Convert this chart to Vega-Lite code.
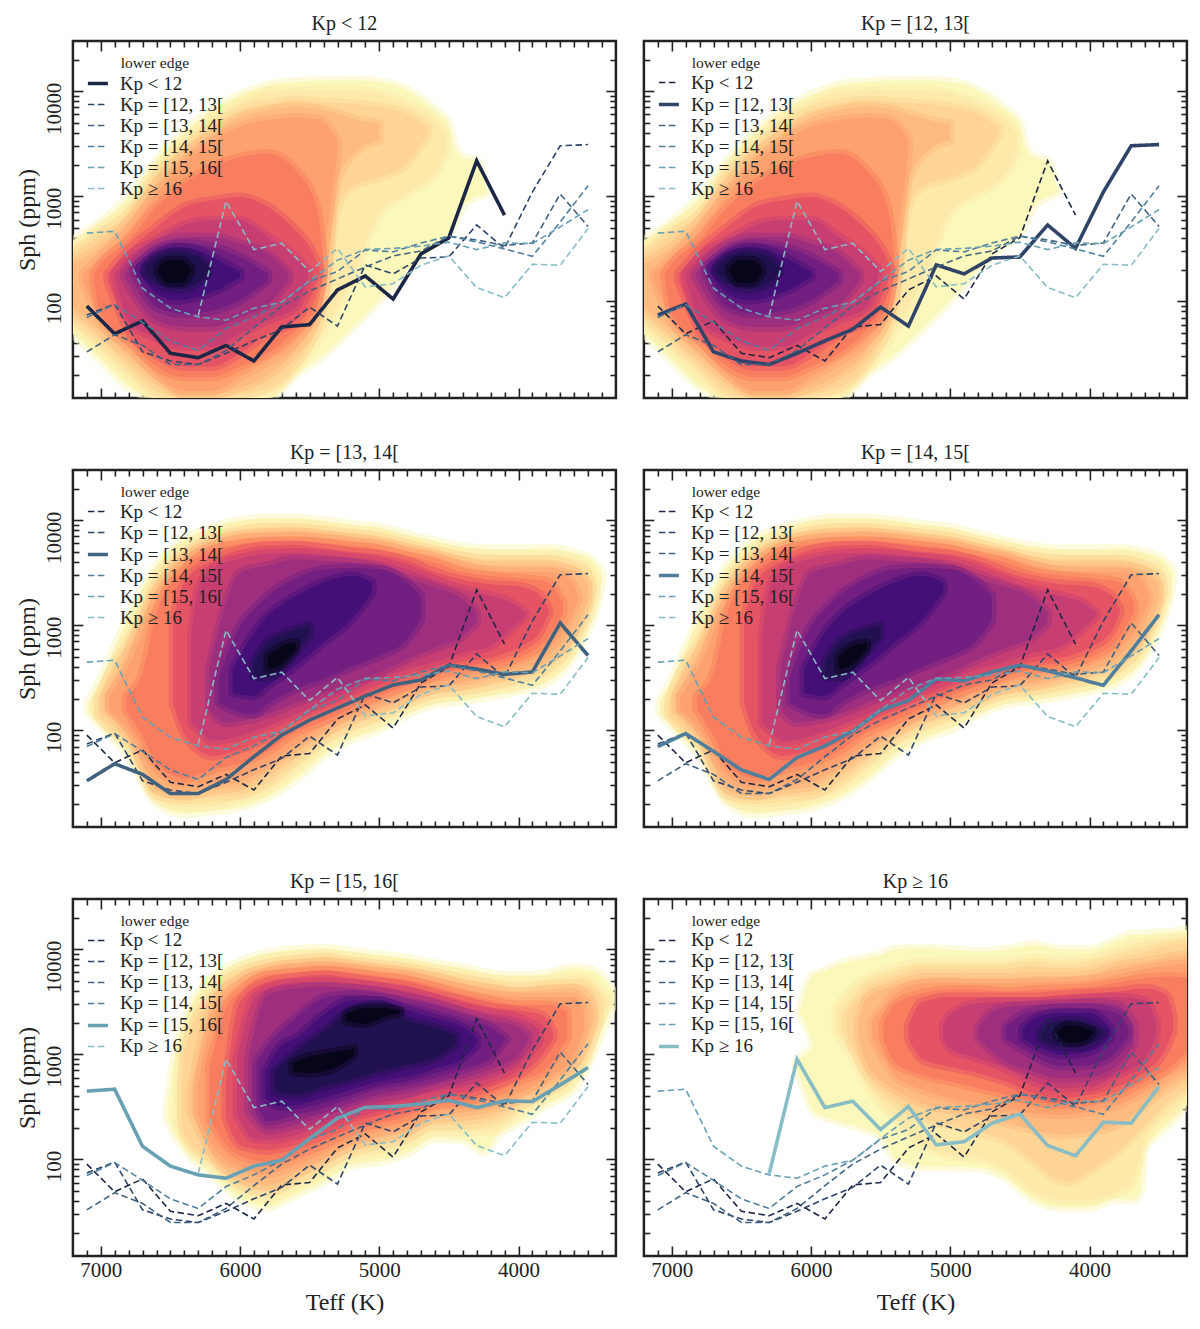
{"$schema":"https://vega.github.io/schema/vega-lite/v6.json","padding":{"left":13.9,"top":12,"right":0,"bottom":0},"background":"white","columns":2,"spacing":{"row":40,"column":22},
"resolve":{"scale":{"color":"independent","strokeDash":"independent","strokeWidth":"independent"},"legend":{"color":"independent","strokeDash":"independent","strokeWidth":"independent"}},
"config":{"view":{"stroke":"#222","strokeWidth":2.5},"font":"Liberation Serif","title":{"font":"Liberation Serif","fontSize":20,"fontWeight":"normal","color":"#222","offset":6},
"axis":{"grid":false,"domain":false,"tickColor":"#222","tickWidth":1.6,"labelFont":"Liberation Serif","titleFont":"Liberation Serif","labelFontSize":21,"titleFontSize":24,"titleFontWeight":"normal","labelColor":"#222","titleColor":"#222","zindex":1,"labelOverlap":false,"labelFlush":false,"format":"d"},
"legend":{"orient":"none","legendX":13,"legendY":15,"padding":0,"fillColor":"transparent","strokeColor":"transparent","titleFont":"Liberation Serif","labelFont":"Liberation Serif","titleFontSize":15.5,"labelFontSize":19,"titleFontWeight":"normal","labelColor":"#222","titleColor":"#222","symbolType":"stroke","symbolSize":400,"rowPadding":0,"titleAnchor":"middle","titlePadding":0,"labelOffset":10,"labelLimit":200}},
"datasets":{"lines":[
{"k":"Kp < 12","t":7100,"s":90},{"k":"Kp < 12","t":6900,"s":49},{"k":"Kp < 12","t":6700,"s":65},{"k":"Kp < 12","t":6500,"s":32},{"k":"Kp < 12","t":6300,"s":29},{"k":"Kp < 12","t":6100,"s":38},{"k":"Kp < 12","t":5900,"s":27},{"k":"Kp < 12","t":5700,"s":57},{"k":"Kp < 12","t":5500,"s":60},{"k":"Kp < 12","t":5300,"s":128},{"k":"Kp < 12","t":5100,"s":174},{"k":"Kp < 12","t":4900,"s":105},{"k":"Kp < 12","t":4700,"s":282},{"k":"Kp < 12","t":4500,"s":402},{"k":"Kp < 12","t":4300,"s":2170},{"k":"Kp < 12","t":4100,"s":660},
{"k":"Kp = [12, 13[","t":7100,"s":74},{"k":"Kp = [12, 13[","t":6900,"s":94},{"k":"Kp = [12, 13[","t":6700,"s":33},{"k":"Kp = [12, 13[","t":6500,"s":27},{"k":"Kp = [12, 13[","t":6300,"s":25},{"k":"Kp = [12, 13[","t":6100,"s":32},{"k":"Kp = [12, 13[","t":5900,"s":42},{"k":"Kp = [12, 13[","t":5700,"s":54},{"k":"Kp = [12, 13[","t":5500,"s":88},{"k":"Kp = [12, 13[","t":5300,"s":58},{"k":"Kp = [12, 13[","t":5100,"s":222},{"k":"Kp = [12, 13[","t":4900,"s":182},{"k":"Kp = [12, 13[","t":4700,"s":258},{"k":"Kp = [12, 13[","t":4500,"s":264},{"k":"Kp = [12, 13[","t":4300,"s":532},{"k":"Kp = [12, 13[","t":4100,"s":319},{"k":"Kp = [12, 13[","t":3900,"s":1096},{"k":"Kp = [12, 13[","t":3700,"s":3020},{"k":"Kp = [12, 13[","t":3500,"s":3100},
{"k":"Kp = [13, 14[","t":7100,"s":33},{"k":"Kp = [13, 14[","t":6900,"s":48},{"k":"Kp = [13, 14[","t":6700,"s":38},{"k":"Kp = [13, 14[","t":6500,"s":25},{"k":"Kp = [13, 14[","t":6300,"s":25},{"k":"Kp = [13, 14[","t":6100,"s":34},{"k":"Kp = [13, 14[","t":5900,"s":56},{"k":"Kp = [13, 14[","t":5700,"s":90},{"k":"Kp = [13, 14[","t":5500,"s":125},{"k":"Kp = [13, 14[","t":5300,"s":163},{"k":"Kp = [13, 14[","t":5100,"s":212},{"k":"Kp = [13, 14[","t":4900,"s":270},{"k":"Kp = [13, 14[","t":4700,"s":301},{"k":"Kp = [13, 14[","t":4500,"s":417},{"k":"Kp = [13, 14[","t":4300,"s":383},{"k":"Kp = [13, 14[","t":4100,"s":340},{"k":"Kp = [13, 14[","t":3900,"s":359},{"k":"Kp = [13, 14[","t":3700,"s":1050},{"k":"Kp = [13, 14[","t":3500,"s":515},
{"k":"Kp = [14, 15[","t":7100,"s":70},{"k":"Kp = [14, 15[","t":6900,"s":93},{"k":"Kp = [14, 15[","t":6700,"s":63},{"k":"Kp = [14, 15[","t":6500,"s":42},{"k":"Kp = [14, 15[","t":6300,"s":34},{"k":"Kp = [14, 15[","t":6100,"s":55},{"k":"Kp = [14, 15[","t":5900,"s":71},{"k":"Kp = [14, 15[","t":5700,"s":98},{"k":"Kp = [14, 15[","t":5500,"s":155},{"k":"Kp = [14, 15[","t":5300,"s":192},{"k":"Kp = [14, 15[","t":5100,"s":308},{"k":"Kp = [14, 15[","t":4900,"s":295},{"k":"Kp = [14, 15[","t":4700,"s":359},{"k":"Kp = [14, 15[","t":4500,"s":417},{"k":"Kp = [14, 15[","t":4300,"s":367},{"k":"Kp = [14, 15[","t":4100,"s":315},{"k":"Kp = [14, 15[","t":3900,"s":268},{"k":"Kp = [14, 15[","t":3700,"s":569},{"k":"Kp = [14, 15[","t":3500,"s":1260},
{"k":"Kp = [15, 16[","t":7100,"s":445},{"k":"Kp = [15, 16[","t":6900,"s":464},{"k":"Kp = [15, 16[","t":6700,"s":133},{"k":"Kp = [15, 16[","t":6500,"s":86},{"k":"Kp = [15, 16[","t":6300,"s":71},{"k":"Kp = [15, 16[","t":6100,"s":66},{"k":"Kp = [15, 16[","t":5900,"s":86},{"k":"Kp = [15, 16[","t":5700,"s":98},{"k":"Kp = [15, 16[","t":5500,"s":157},{"k":"Kp = [15, 16[","t":5300,"s":246},{"k":"Kp = [15, 16[","t":5100,"s":312},{"k":"Kp = [15, 16[","t":4900,"s":318},{"k":"Kp = [15, 16[","t":4700,"s":335},{"k":"Kp = [15, 16[","t":4500,"s":365},{"k":"Kp = [15, 16[","t":4300,"s":310},{"k":"Kp = [15, 16[","t":4100,"s":360},{"k":"Kp = [15, 16[","t":3900,"s":354},{"k":"Kp = [15, 16[","t":3700,"s":510},{"k":"Kp = [15, 16[","t":3500,"s":746},
{"k":"Kp ≥ 16","t":6300,"s":73},{"k":"Kp ≥ 16","t":6100,"s":896},{"k":"Kp ≥ 16","t":5900,"s":310},{"k":"Kp ≥ 16","t":5700,"s":357},{"k":"Kp ≥ 16","t":5500,"s":192},{"k":"Kp ≥ 16","t":5300,"s":318},{"k":"Kp ≥ 16","t":5100,"s":137},{"k":"Kp ≥ 16","t":4900,"s":147},{"k":"Kp ≥ 16","t":4700,"s":220},{"k":"Kp ≥ 16","t":4500,"s":270},{"k":"Kp ≥ 16","t":4300,"s":135},{"k":"Kp ≥ 16","t":4100,"s":108},{"k":"Kp ≥ 16","t":3900,"s":225},{"k":"Kp ≥ 16","t":3700,"s":220},{"k":"Kp ≥ 16","t":3500,"s":492}
],
"heat":[
{"h":"A","lev":1,"t":7200,"s":49,"s2":381},{"h":"A","lev":1,"t":7000,"s":27.4,"s2":570},{"h":"A","lev":1,"t":6800,"s":15.3,"s2":985},{"h":"A","lev":1,"t":6600,"s":12,"s2":2200},{"h":"A","lev":1,"t":6400,"s":12,"s2":4100},{"h":"A","lev":1,"t":6200,"s":12,"s2":6600},{"h":"A","lev":1,"t":6000,"s":12,"s2":9200},{"h":"A","lev":1,"t":5800,"s":12,"s2":11400},{"h":"A","lev":1,"t":5600,"s":20,"s2":12300},{"h":"A","lev":1,"t":5400,"s":31,"s2":12600},{"h":"A","lev":1,"t":5200,"s":55,"s2":12700},{"h":"A","lev":1,"t":5000,"s":102,"s2":12300},{"h":"A","lev":1,"t":4800,"s":200,"s2":10200},{"h":"A","lev":1,"t":4600,"s":354,"s2":6600},{"h":"A","lev":1,"t":4500,"s":440,"s2":4900},{"h":"A","lev":1,"t":4460,"s":560,"s2":3000},{"h":"A","lev":1,"t":4400,"s":800,"s2":2350},{"h":"A","lev":1,"t":4300,"s":980,"s2":2180},{"h":"A","lev":1,"t":4240,"s":1060,"s2":1300},{"h":"A","lev":1,"t":4226,"s":1090,"s2":1100},
{"h":"A","lev":2,"t":7200,"s":57,"s2":329},{"h":"A","lev":2,"t":7000,"s":34,"s2":520},{"h":"A","lev":2,"t":6800,"s":19,"s2":790},{"h":"A","lev":2,"t":6600,"s":12,"s2":1900},{"h":"A","lev":2,"t":6400,"s":12,"s2":3415},{"h":"A","lev":2,"t":6200,"s":12,"s2":5700},{"h":"A","lev":2,"t":6000,"s":12,"s2":7900},{"h":"A","lev":2,"t":5800,"s":13,"s2":9900},{"h":"A","lev":2,"t":5600,"s":22,"s2":10200},{"h":"A","lev":2,"t":5400,"s":52,"s2":10200},{"h":"A","lev":2,"t":5200,"s":158,"s2":10200},{"h":"A","lev":2,"t":5000,"s":684,"s2":9500},{"h":"A","lev":2,"t":4800,"s":1060,"s2":7600},{"h":"A","lev":2,"t":4600,"s":1640,"s2":5300},{"h":"A","lev":2,"t":4520,"s":2600,"s2":3900},
{"h":"A","lev":3,"t":7200,"s":70,"s2":284},{"h":"A","lev":3,"t":7000,"s":42,"s2":441},{"h":"A","lev":3,"t":6800,"s":24,"s2":684},{"h":"A","lev":3,"t":6600,"s":14,"s2":1640},{"h":"A","lev":3,"t":6400,"s":12,"s2":2950},{"h":"A","lev":3,"t":6200,"s":12,"s2":4570},{"h":"A","lev":3,"t":6000,"s":13,"s2":6600},{"h":"A","lev":3,"t":5800,"s":15,"s2":7600},{"h":"A","lev":3,"t":5600,"s":25,"s2":8200},{"h":"A","lev":3,"t":5400,"s":88,"s2":7900},{"h":"A","lev":3,"t":5300,"s":791,"s2":7700},{"h":"A","lev":3,"t":5200,"s":1226,"s2":7600},{"h":"A","lev":3,"t":5000,"s":1500,"s2":7100},{"h":"A","lev":3,"t":4800,"s":2050,"s2":6100},{"h":"A","lev":3,"t":4650,"s":3900,"s2":4500},
{"h":"A","lev":4,"t":7200,"s":88,"s2":228},{"h":"A","lev":4,"t":7000,"s":52,"s2":329},{"h":"A","lev":4,"t":6800,"s":30,"s2":590},{"h":"A","lev":4,"t":6600,"s":18,"s2":1320},{"h":"A","lev":4,"t":6400,"s":13,"s2":2550},{"h":"A","lev":4,"t":6200,"s":13,"s2":3950},{"h":"A","lev":4,"t":6000,"s":15,"s2":5600},{"h":"A","lev":4,"t":5800,"s":20,"s2":6600},{"h":"A","lev":4,"t":5600,"s":34,"s2":7100},{"h":"A","lev":4,"t":5400,"s":102,"s2":6600},{"h":"A","lev":4,"t":5300,"s":1420,"s2":6100},{"h":"A","lev":4,"t":5150,"s":2750,"s2":5300},{"h":"A","lev":4,"t":5000,"s":3400,"s2":4900},
{"h":"A","lev":5,"t":7130,"s":158,"s2":183},{"h":"A","lev":5,"t":7000,"s":65,"s2":265},{"h":"A","lev":5,"t":6800,"s":37,"s2":475},{"h":"A","lev":5,"t":6600,"s":20,"s2":1060},{"h":"A","lev":5,"t":6400,"s":14,"s2":2050},{"h":"A","lev":5,"t":6200,"s":14,"s2":3300},{"h":"A","lev":5,"t":6000,"s":19,"s2":4570},{"h":"A","lev":5,"t":5800,"s":27,"s2":5300},{"h":"A","lev":5,"t":5600,"s":42,"s2":5600},{"h":"A","lev":5,"t":5450,"s":88,"s2":5400},{"h":"A","lev":5,"t":5400,"s":260,"s2":5100},{"h":"A","lev":5,"t":5300,"s":2550,"s2":3415},
{"h":"A","lev":6,"t":7050,"s":158,"s2":183},{"h":"A","lev":6,"t":7000,"s":76,"s2":228},{"h":"A","lev":6,"t":6800,"s":42,"s2":381},{"h":"A","lev":6,"t":6600,"s":24,"s2":790},{"h":"A","lev":6,"t":6400,"s":19,"s2":1320},{"h":"A","lev":6,"t":6200,"s":19,"s2":1900},{"h":"A","lev":6,"t":6000,"s":24,"s2":2350},{"h":"A","lev":6,"t":5800,"s":32,"s2":2550},{"h":"A","lev":6,"t":5600,"s":53,"s2":1770},{"h":"A","lev":6,"t":5450,"s":88,"s2":790},{"h":"A","lev":6,"t":5400,"s":183,"s2":246},
{"h":"A","lev":7,"t":6950,"s":158,"s2":183},{"h":"A","lev":7,"t":6800,"s":53,"s2":306},{"h":"A","lev":7,"t":6600,"s":31,"s2":510},{"h":"A","lev":7,"t":6400,"s":24,"s2":790},{"h":"A","lev":7,"t":6200,"s":24,"s2":916},{"h":"A","lev":7,"t":6000,"s":32,"s2":985},{"h":"A","lev":7,"t":5800,"s":49,"s2":790},{"h":"A","lev":7,"t":5600,"s":66,"s2":475},{"h":"A","lev":7,"t":5500,"s":102,"s2":329},{"h":"A","lev":7,"t":5430,"s":183,"s2":212},
{"h":"A","lev":8,"t":6900,"s":170,"s2":183},{"h":"A","lev":8,"t":6800,"s":66,"s2":265},{"h":"A","lev":8,"t":6600,"s":45,"s2":381},{"h":"A","lev":8,"t":6400,"s":37,"s2":530},{"h":"A","lev":8,"t":6200,"s":37,"s2":590},{"h":"A","lev":8,"t":6000,"s":49,"s2":590},{"h":"A","lev":8,"t":5800,"s":66,"s2":410},{"h":"A","lev":8,"t":5600,"s":88,"s2":265},{"h":"A","lev":8,"t":5510,"s":183,"s2":197},
{"h":"A","lev":9,"t":6830,"s":170,"s2":183},{"h":"A","lev":9,"t":6700,"s":88,"s2":284},{"h":"A","lev":9,"t":6600,"s":66,"s2":354},{"h":"A","lev":9,"t":6400,"s":57,"s2":410},{"h":"A","lev":9,"t":6200,"s":57,"s2":410},{"h":"A","lev":9,"t":6000,"s":70,"s2":354},{"h":"A","lev":9,"t":5800,"s":93,"s2":284},{"h":"A","lev":9,"t":5650,"s":158,"s2":183},
{"h":"A","lev":10,"t":6760,"s":183,"s2":212},{"h":"A","lev":10,"t":6600,"s":88,"s2":306},{"h":"A","lev":10,"t":6400,"s":76,"s2":354},{"h":"A","lev":10,"t":6200,"s":81,"s2":329},{"h":"A","lev":10,"t":6000,"s":102,"s2":265},{"h":"A","lev":10,"t":5800,"s":158,"s2":183},
{"h":"A","lev":11,"t":6720,"s":183,"s2":212},{"h":"A","lev":11,"t":6600,"s":118,"s2":284},{"h":"A","lev":11,"t":6450,"s":102,"s2":329},{"h":"A","lev":11,"t":6300,"s":110,"s2":306},{"h":"A","lev":11,"t":6150,"s":130,"s2":246},{"h":"A","lev":11,"t":6000,"s":170,"s2":190},
{"h":"A","lev":12,"t":6680,"s":183,"s2":212},{"h":"A","lev":12,"t":6600,"s":150,"s2":265},{"h":"A","lev":12,"t":6450,"s":130,"s2":295},{"h":"A","lev":12,"t":6300,"s":150,"s2":265},{"h":"A","lev":12,"t":6230,"s":183,"s2":212},
{"h":"A","lev":13,"t":6590,"s":190,"s2":205},{"h":"A","lev":13,"t":6520,"s":150,"s2":246},{"h":"A","lev":13,"t":6420,"s":150,"s2":246},{"h":"A","lev":13,"t":6350,"s":190,"s2":205},

{"h":"B","lev":1,"t":7090,"s":147,"s2":183},{"h":"B","lev":1,"t":7000,"s":110,"s2":306},{"h":"B","lev":1,"t":6800,"s":57,"s2":1226},{"h":"B","lev":1,"t":6600,"s":20.5,"s2":3680},{"h":"B","lev":1,"t":6400,"s":16,"s2":6600},{"h":"B","lev":1,"t":6200,"s":17,"s2":8500},{"h":"B","lev":1,"t":6000,"s":18.5,"s2":9900},{"h":"B","lev":1,"t":5800,"s":23,"s2":10400},{"h":"B","lev":1,"t":5600,"s":34,"s2":10400},{"h":"B","lev":1,"t":5400,"s":57,"s2":9900},{"h":"B","lev":1,"t":5200,"s":82,"s2":9100},{"h":"B","lev":1,"t":5000,"s":102,"s2":8500},{"h":"B","lev":1,"t":4800,"s":142,"s2":7300},{"h":"B","lev":1,"t":4600,"s":177,"s2":6300},{"h":"B","lev":1,"t":4400,"s":190,"s2":5600},{"h":"B","lev":1,"t":4200,"s":212,"s2":5300},{"h":"B","lev":1,"t":4000,"s":237,"s2":5300},{"h":"B","lev":1,"t":3800,"s":284,"s2":5400},{"h":"B","lev":1,"t":3600,"s":510,"s2":4900},{"h":"B","lev":1,"t":3500,"s":916,"s2":4430},{"h":"B","lev":1,"t":3430,"s":1644,"s2":3680},{"h":"B","lev":1,"t":3400,"s":2750,"s2":3180},
{"h":"B","lev":2,"t":7050,"s":147,"s2":183},{"h":"B","lev":2,"t":7000,"s":122,"s2":246},{"h":"B","lev":2,"t":6800,"s":66,"s2":916},{"h":"B","lev":2,"t":6600,"s":22,"s2":3050},{"h":"B","lev":2,"t":6400,"s":18.5,"s2":5600},{"h":"B","lev":2,"t":6200,"s":19,"s2":7600},{"h":"B","lev":2,"t":6000,"s":22,"s2":8800},{"h":"B","lev":2,"t":5800,"s":27,"s2":9400},{"h":"B","lev":2,"t":5600,"s":42,"s2":9400},{"h":"B","lev":2,"t":5400,"s":68,"s2":8800},{"h":"B","lev":2,"t":5200,"s":95,"s2":8200},{"h":"B","lev":2,"t":5000,"s":118,"s2":7600},{"h":"B","lev":2,"t":4800,"s":158,"s2":6600},{"h":"B","lev":2,"t":4600,"s":197,"s2":5700},{"h":"B","lev":2,"t":4400,"s":212,"s2":5000},{"h":"B","lev":2,"t":4200,"s":237,"s2":4700},{"h":"B","lev":2,"t":4000,"s":265,"s2":4700},{"h":"B","lev":2,"t":3800,"s":329,"s2":4700},{"h":"B","lev":2,"t":3600,"s":590,"s2":4250},{"h":"B","lev":2,"t":3500,"s":1130,"s2":3680},{"h":"B","lev":2,"t":3440,"s":1900,"s2":2750},
{"h":"B","lev":3,"t":7020,"s":137,"s2":197},{"h":"B","lev":3,"t":6900,"s":95,"s2":441},{"h":"B","lev":3,"t":6800,"s":74,"s2":684},{"h":"B","lev":3,"t":6600,"s":24,"s2":2600},{"h":"B","lev":3,"t":6400,"s":22,"s2":4900},{"h":"B","lev":3,"t":6200,"s":23,"s2":6800},{"h":"B","lev":3,"t":6000,"s":24,"s2":7900},{"h":"B","lev":3,"t":5800,"s":32,"s2":8500},{"h":"B","lev":3,"t":5600,"s":51,"s2":8500},{"h":"B","lev":3,"t":5400,"s":80,"s2":8000},{"h":"B","lev":3,"t":5200,"s":110,"s2":7500},{"h":"B","lev":3,"t":5000,"s":137,"s2":7000},{"h":"B","lev":3,"t":4800,"s":177,"s2":6000},{"h":"B","lev":3,"t":4600,"s":220,"s2":5200},{"h":"B","lev":3,"t":4400,"s":237,"s2":4500},{"h":"B","lev":3,"t":4200,"s":265,"s2":4250},{"h":"B","lev":3,"t":4000,"s":306,"s2":4250},{"h":"B","lev":3,"t":3800,"s":381,"s2":4250},{"h":"B","lev":3,"t":3600,"s":720,"s2":3680},{"h":"B","lev":3,"t":3500,"s":1420,"s2":3050},{"h":"B","lev":3,"t":3470,"s":2100,"s2":2400},
{"h":"B","lev":4,"t":6970,"s":158,"s2":212},{"h":"B","lev":4,"t":6800,"s":88,"s2":590},{"h":"B","lev":4,"t":6600,"s":27,"s2":2200},{"h":"B","lev":4,"t":6400,"s":23.5,"s2":4500},{"h":"B","lev":4,"t":6200,"s":27,"s2":6200},{"h":"B","lev":4,"t":6000,"s":29,"s2":7300},{"h":"B","lev":4,"t":5800,"s":41,"s2":7600},{"h":"B","lev":4,"t":5600,"s":61,"s2":7700},{"h":"B","lev":4,"t":5400,"s":92,"s2":7300},{"h":"B","lev":4,"t":5200,"s":127,"s2":6800},{"h":"B","lev":4,"t":5000,"s":158,"s2":6300},{"h":"B","lev":4,"t":4800,"s":197,"s2":5500},{"h":"B","lev":4,"t":4600,"s":246,"s2":4800},{"h":"B","lev":4,"t":4400,"s":265,"s2":4100},{"h":"B","lev":4,"t":4200,"s":306,"s2":3700},{"h":"B","lev":4,"t":4000,"s":354,"s2":3700},{"h":"B","lev":4,"t":3800,"s":450,"s2":3700},{"h":"B","lev":4,"t":3600,"s":850,"s2":3260},{"h":"B","lev":4,"t":3500,"s":1700,"s2":2470},
{"h":"B","lev":5,"t":6940,"s":158,"s2":212},{"h":"B","lev":5,"t":6800,"s":102,"s2":410},{"h":"B","lev":5,"t":6600,"s":37,"s2":1800},{"h":"B","lev":5,"t":6400,"s":29,"s2":3950},{"h":"B","lev":5,"t":6200,"s":32,"s2":5700},{"h":"B","lev":5,"t":6000,"s":36,"s2":6700},{"h":"B","lev":5,"t":5800,"s":49,"s2":7000},{"h":"B","lev":5,"t":5600,"s":74,"s2":7100},{"h":"B","lev":5,"t":5400,"s":108,"s2":6800},{"h":"B","lev":5,"t":5200,"s":142,"s2":6300},{"h":"B","lev":5,"t":5000,"s":183,"s2":5900},{"h":"B","lev":5,"t":4800,"s":230,"s2":5100},{"h":"B","lev":5,"t":4600,"s":284,"s2":4500},{"h":"B","lev":5,"t":4400,"s":318,"s2":3700},{"h":"B","lev":5,"t":4200,"s":354,"s2":3300},{"h":"B","lev":5,"t":4000,"s":410,"s2":3200},{"h":"B","lev":5,"t":3800,"s":570,"s2":3200},{"h":"B","lev":5,"t":3650,"s":990,"s2":2900},{"h":"B","lev":5,"t":3570,"s":1760,"s2":1900},
{"h":"B","lev":6,"t":6820,"s":158,"s2":212},{"h":"B","lev":6,"t":6700,"s":88,"s2":354},{"h":"B","lev":6,"t":6600,"s":49,"s2":1320},{"h":"B","lev":6,"t":6400,"s":35,"s2":3415},{"h":"B","lev":6,"t":6200,"s":42,"s2":5200},{"h":"B","lev":6,"t":6000,"s":49,"s2":5900},{"h":"B","lev":6,"t":5800,"s":63,"s2":6300},{"h":"B","lev":6,"t":5600,"s":95,"s2":6300},{"h":"B","lev":6,"t":5400,"s":122,"s2":6100},{"h":"B","lev":6,"t":5200,"s":163,"s2":5700},{"h":"B","lev":6,"t":5000,"s":212,"s2":5300},{"h":"B","lev":6,"t":4800,"s":265,"s2":4570},{"h":"B","lev":6,"t":4600,"s":329,"s2":3950},{"h":"B","lev":6,"t":4400,"s":381,"s2":3200},{"h":"B","lev":6,"t":4200,"s":410,"s2":2950},{"h":"B","lev":6,"t":4000,"s":490,"s2":2800},{"h":"B","lev":6,"t":3800,"s":730,"s2":2600},{"h":"B","lev":6,"t":3680,"s":1320,"s2":1640},
{"h":"B","lev":7,"t":6480,"s":183,"s2":1140},{"h":"B","lev":7,"t":6400,"s":93,"s2":2550},{"h":"B","lev":7,"t":6200,"s":57,"s2":4100},{"h":"B","lev":7,"t":6000,"s":66,"s2":5200},{"h":"B","lev":7,"t":5800,"s":85,"s2":5700},{"h":"B","lev":7,"t":5600,"s":118,"s2":5800},{"h":"B","lev":7,"t":5400,"s":153,"s2":5400},{"h":"B","lev":7,"t":5200,"s":197,"s2":5000},{"h":"B","lev":7,"t":5000,"s":255,"s2":4700},{"h":"B","lev":7,"t":4800,"s":318,"s2":4100},{"h":"B","lev":7,"t":4600,"s":381,"s2":3200},{"h":"B","lev":7,"t":4400,"s":450,"s2":2700},{"h":"B","lev":7,"t":4200,"s":490,"s2":2450},{"h":"B","lev":7,"t":4000,"s":610,"s2":2350},{"h":"B","lev":7,"t":3850,"s":850,"s2":1970},{"h":"B","lev":7,"t":3780,"s":1320,"s2":1420},
{"h":"B","lev":8,"t":6350,"s":118,"s2":790},{"h":"B","lev":8,"t":6300,"s":102,"s2":2200},{"h":"B","lev":8,"t":6200,"s":79,"s2":3415},{"h":"B","lev":8,"t":6000,"s":88,"s2":4300},{"h":"B","lev":8,"t":5800,"s":110,"s2":4800},{"h":"B","lev":8,"t":5600,"s":142,"s2":4900},{"h":"B","lev":8,"t":5400,"s":183,"s2":4700},{"h":"B","lev":8,"t":5200,"s":237,"s2":4400},{"h":"B","lev":8,"t":5000,"s":306,"s2":4100},{"h":"B","lev":8,"t":4800,"s":381,"s2":3415},{"h":"B","lev":8,"t":4600,"s":450,"s2":2700},{"h":"B","lev":8,"t":4400,"s":550,"s2":2200},{"h":"B","lev":8,"t":4200,"s":635,"s2":1900},{"h":"B","lev":8,"t":4050,"s":916,"s2":1640},{"h":"B","lev":8,"t":3950,"s":1226,"s2":1320},
{"h":"B","lev":9,"t":6220,"s":158,"s2":381},{"h":"B","lev":9,"t":6100,"s":118,"s2":1640},{"h":"B","lev":9,"t":6000,"s":122,"s2":3150},{"h":"B","lev":9,"t":5800,"s":142,"s2":3700},{"h":"B","lev":9,"t":5600,"s":183,"s2":4250},{"h":"B","lev":9,"t":5400,"s":228,"s2":4100},{"h":"B","lev":9,"t":5200,"s":284,"s2":3950},{"h":"B","lev":9,"t":5000,"s":354,"s2":3500},{"h":"B","lev":9,"t":4800,"s":475,"s2":2800},{"h":"B","lev":9,"t":4600,"s":610,"s2":2300},{"h":"B","lev":9,"t":4400,"s":790,"s2":1770},{"h":"B","lev":9,"t":4300,"s":1060,"s2":1320},
{"h":"B","lev":10,"t":6150,"s":183,"s2":329},{"h":"B","lev":10,"t":6000,"s":147,"s2":985},{"h":"B","lev":10,"t":5900,"s":142,"s2":1420},{"h":"B","lev":10,"t":5800,"s":177,"s2":1900},{"h":"B","lev":10,"t":5600,"s":246,"s2":2800},{"h":"B","lev":10,"t":5400,"s":306,"s2":3415},{"h":"B","lev":10,"t":5200,"s":400,"s2":3500},{"h":"B","lev":10,"t":5000,"s":510,"s2":3415},{"h":"B","lev":10,"t":4800,"s":730,"s2":2550},{"h":"B","lev":10,"t":4700,"s":1130,"s2":1900},
{"h":"B","lev":11,"t":6050,"s":228,"s2":381},{"h":"B","lev":11,"t":5900,"s":212,"s2":850},{"h":"B","lev":11,"t":5800,"s":265,"s2":1226},{"h":"B","lev":11,"t":5600,"s":410,"s2":1900},{"h":"B","lev":11,"t":5400,"s":684,"s2":2550},{"h":"B","lev":11,"t":5200,"s":1130,"s2":2950},{"h":"B","lev":11,"t":5050,"s":2050,"s2":2550},
{"h":"B","lev":12,"t":5900,"s":329,"s2":441},{"h":"B","lev":12,"t":5800,"s":318,"s2":684},{"h":"B","lev":12,"t":5700,"s":381,"s2":820},{"h":"B","lev":12,"t":5600,"s":550,"s2":916},{"h":"B","lev":12,"t":5500,"s":790,"s2":985},
{"h":"B","lev":13,"t":5800,"s":381,"s2":510},{"h":"B","lev":13,"t":5700,"s":425,"s2":635},{"h":"B","lev":13,"t":5600,"s":590,"s2":684},

{"h":"C","lev":1,"t":6520,"s":246,"s2":329},{"h":"C","lev":1,"t":6480,"s":183,"s2":791},{"h":"C","lev":1,"t":6400,"s":127,"s2":2050},{"h":"C","lev":1,"t":6200,"s":71,"s2":5300},{"h":"C","lev":1,"t":6000,"s":42.5,"s2":7600},{"h":"C","lev":1,"t":5800,"s":35,"s2":9100},{"h":"C","lev":1,"t":5600,"s":46,"s2":9900},{"h":"C","lev":1,"t":5400,"s":61,"s2":10200},{"h":"C","lev":1,"t":5200,"s":88,"s2":9500},{"h":"C","lev":1,"t":5000,"s":95,"s2":8800},{"h":"C","lev":1,"t":4800,"s":114,"s2":8200},{"h":"C","lev":1,"t":4600,"s":158,"s2":7300},{"h":"C","lev":1,"t":4400,"s":153,"s2":6600},{"h":"C","lev":1,"t":4250,"s":118,"s2":6000},{"h":"C","lev":1,"t":4150,"s":170,"s2":5700},{"h":"C","lev":1,"t":4000,"s":222,"s2":5600},{"h":"C","lev":1,"t":3800,"s":329,"s2":5800},{"h":"C","lev":1,"t":3600,"s":475,"s2":6600},{"h":"C","lev":1,"t":3500,"s":791,"s2":6400},{"h":"C","lev":1,"t":3400,"s":1644,"s2":5500},{"h":"C","lev":1,"t":3320,"s":2950,"s2":3954},
{"h":"C","lev":2,"t":6450,"s":212,"s2":590},{"h":"C","lev":2,"t":6400,"s":147,"s2":1520},{"h":"C","lev":2,"t":6200,"s":85,"s2":4400},{"h":"C","lev":2,"t":6000,"s":51,"s2":6800},{"h":"C","lev":2,"t":5800,"s":42,"s2":8200},{"h":"C","lev":2,"t":5600,"s":55,"s2":8800},{"h":"C","lev":2,"t":5400,"s":74,"s2":9100},{"h":"C","lev":2,"t":5200,"s":102,"s2":8500},{"h":"C","lev":2,"t":5000,"s":114,"s2":7900},{"h":"C","lev":2,"t":4800,"s":137,"s2":7300},{"h":"C","lev":2,"t":4600,"s":183,"s2":6600},{"h":"C","lev":2,"t":4400,"s":183,"s2":5800},{"h":"C","lev":2,"t":4200,"s":183,"s2":5300},{"h":"C","lev":2,"t":4000,"s":274,"s2":5000},{"h":"C","lev":2,"t":3800,"s":381,"s2":5100},{"h":"C","lev":2,"t":3600,"s":570,"s2":5500},{"h":"C","lev":2,"t":3500,"s":916,"s2":5300},{"h":"C","lev":2,"t":3420,"s":2050,"s2":4250},{"h":"C","lev":2,"t":3350,"s":2950,"s2":3415},
{"h":"C","lev":3,"t":6420,"s":246,"s2":510},{"h":"C","lev":3,"t":6400,"s":170,"s2":1060},{"h":"C","lev":3,"t":6200,"s":98,"s2":3680},{"h":"C","lev":3,"t":6000,"s":56,"s2":6100},{"h":"C","lev":3,"t":5800,"s":49,"s2":7300},{"h":"C","lev":3,"t":5600,"s":63,"s2":8000},{"h":"C","lev":3,"t":5400,"s":85,"s2":8400},{"h":"C","lev":3,"t":5200,"s":118,"s2":7700},{"h":"C","lev":3,"t":5000,"s":137,"s2":7200},{"h":"C","lev":3,"t":4800,"s":158,"s2":6700},{"h":"C","lev":3,"t":4600,"s":212,"s2":6000},{"h":"C","lev":3,"t":4400,"s":212,"s2":5300},{"h":"C","lev":3,"t":4200,"s":230,"s2":4700},{"h":"C","lev":3,"t":4000,"s":318,"s2":4250},{"h":"C","lev":3,"t":3800,"s":425,"s2":4570},{"h":"C","lev":3,"t":3600,"s":660,"s2":4700},{"h":"C","lev":3,"t":3500,"s":1060,"s2":4430},{"h":"C","lev":3,"t":3420,"s":2050,"s2":3150},
{"h":"C","lev":4,"t":6350,"s":284,"s2":460},{"h":"C","lev":4,"t":6200,"s":110,"s2":2950},{"h":"C","lev":4,"t":6000,"s":66,"s2":5300},{"h":"C","lev":4,"t":5800,"s":56,"s2":6700},{"h":"C","lev":4,"t":5600,"s":73,"s2":7300},{"h":"C","lev":4,"t":5400,"s":98,"s2":7600},{"h":"C","lev":4,"t":5200,"s":132,"s2":7200},{"h":"C","lev":4,"t":5000,"s":158,"s2":6600},{"h":"C","lev":4,"t":4800,"s":183,"s2":6100},{"h":"C","lev":4,"t":4600,"s":246,"s2":5500},{"h":"C","lev":4,"t":4400,"s":255,"s2":4700},{"h":"C","lev":4,"t":4200,"s":284,"s2":4250},{"h":"C","lev":4,"t":4000,"s":370,"s2":3950},{"h":"C","lev":4,"t":3800,"s":490,"s2":4100},{"h":"C","lev":4,"t":3600,"s":770,"s2":4250},{"h":"C","lev":4,"t":3500,"s":1420,"s2":3500},{"h":"C","lev":4,"t":3460,"s":2100,"s2":2550},
{"h":"C","lev":5,"t":6300,"s":266,"s2":510},{"h":"C","lev":5,"t":6200,"s":137,"s2":2050},{"h":"C","lev":5,"t":6000,"s":85,"s2":4700},{"h":"C","lev":5,"t":5800,"s":73,"s2":6100},{"h":"C","lev":5,"t":5600,"s":88,"s2":6700},{"h":"C","lev":5,"t":5400,"s":113,"s2":7000},{"h":"C","lev":5,"t":5200,"s":153,"s2":6600},{"h":"C","lev":5,"t":5000,"s":183,"s2":6100},{"h":"C","lev":5,"t":4800,"s":212,"s2":5700},{"h":"C","lev":5,"t":4600,"s":284,"s2":4900},{"h":"C","lev":5,"t":4400,"s":306,"s2":4250},{"h":"C","lev":5,"t":4200,"s":340,"s2":3700},{"h":"C","lev":5,"t":4000,"s":425,"s2":3500},{"h":"C","lev":5,"t":3800,"s":590,"s2":3500},{"h":"C","lev":5,"t":3600,"s":985,"s2":3500},{"h":"C","lev":5,"t":3530,"s":1760,"s2":2550},
{"h":"C","lev":6,"t":6220,"s":246,"s2":730},{"h":"C","lev":6,"t":6100,"s":137,"s2":2750},{"h":"C","lev":6,"t":6000,"s":108,"s2":3950},{"h":"C","lev":6,"t":5800,"s":95,"s2":5700},{"h":"C","lev":6,"t":5600,"s":110,"s2":6000},{"h":"C","lev":6,"t":5400,"s":137,"s2":6300},{"h":"C","lev":6,"t":5200,"s":183,"s2":6000},{"h":"C","lev":6,"t":5000,"s":220,"s2":5500},{"h":"C","lev":6,"t":4800,"s":255,"s2":5100},{"h":"C","lev":6,"t":4600,"s":329,"s2":4400},{"h":"C","lev":6,"t":4400,"s":354,"s2":3700},{"h":"C","lev":6,"t":4200,"s":410,"s2":3260},{"h":"C","lev":6,"t":4000,"s":550,"s2":2950},{"h":"C","lev":6,"t":3800,"s":730,"s2":2950},{"h":"C","lev":6,"t":3650,"s":1420,"s2":2550},
{"h":"C","lev":7,"t":6100,"s":246,"s2":550},{"h":"C","lev":7,"t":6000,"s":137,"s2":3150},{"h":"C","lev":7,"t":5800,"s":122,"s2":4900},{"h":"C","lev":7,"t":5600,"s":137,"s2":5400},{"h":"C","lev":7,"t":5400,"s":170,"s2":5700},{"h":"C","lev":7,"t":5200,"s":220,"s2":5300},{"h":"C","lev":7,"t":5000,"s":265,"s2":4900},{"h":"C","lev":7,"t":4800,"s":306,"s2":4500},{"h":"C","lev":7,"t":4600,"s":381,"s2":3800},{"h":"C","lev":7,"t":4400,"s":410,"s2":3250},{"h":"C","lev":7,"t":4200,"s":490,"s2":2800},{"h":"C","lev":7,"t":4000,"s":635,"s2":2600},{"h":"C","lev":7,"t":3830,"s":985,"s2":2350},{"h":"C","lev":7,"t":3750,"s":1420,"s2":1644},
{"h":"C","lev":8,"t":6020,"s":265,"s2":916},{"h":"C","lev":8,"t":5900,"s":158,"s2":3415},{"h":"C","lev":8,"t":5800,"s":153,"s2":4250},{"h":"C","lev":8,"t":5600,"s":170,"s2":4800},{"h":"C","lev":8,"t":5400,"s":212,"s2":4900},{"h":"C","lev":8,"t":5200,"s":265,"s2":4700},{"h":"C","lev":8,"t":5000,"s":318,"s2":4400},{"h":"C","lev":8,"t":4800,"s":370,"s2":3950},{"h":"C","lev":8,"t":4600,"s":441,"s2":3415},{"h":"C","lev":8,"t":4400,"s":490,"s2":2800},{"h":"C","lev":8,"t":4200,"s":590,"s2":2470},{"h":"C","lev":8,"t":4000,"s":791,"s2":2200},{"h":"C","lev":8,"t":3850,"s":1320,"s2":1770},
{"h":"C","lev":9,"t":5940,"s":284,"s2":916},{"h":"C","lev":9,"t":5800,"s":190,"s2":3680},{"h":"C","lev":9,"t":5600,"s":212,"s2":4250},{"h":"C","lev":9,"t":5400,"s":255,"s2":4400},{"h":"C","lev":9,"t":5200,"s":318,"s2":4250},{"h":"C","lev":9,"t":5000,"s":381,"s2":3950},{"h":"C","lev":9,"t":4800,"s":425,"s2":3500},{"h":"C","lev":9,"t":4600,"s":510,"s2":3050},{"h":"C","lev":9,"t":4400,"s":590,"s2":2550},{"h":"C","lev":9,"t":4200,"s":720,"s2":2100},{"h":"C","lev":9,"t":4000,"s":985,"s2":1800},{"h":"C","lev":9,"t":3930,"s":1320,"s2":1520},
{"h":"C","lev":10,"t":5880,"s":329,"s2":850},{"h":"C","lev":10,"t":5800,"s":230,"s2":1226},{"h":"C","lev":10,"t":5600,"s":265,"s2":2200},{"h":"C","lev":10,"t":5400,"s":306,"s2":3415},{"h":"C","lev":10,"t":5200,"s":381,"s2":3700},{"h":"C","lev":10,"t":5000,"s":460,"s2":3500},{"h":"C","lev":10,"t":4800,"s":510,"s2":3050},{"h":"C","lev":10,"t":4600,"s":590,"s2":2650},{"h":"C","lev":10,"t":4400,"s":720,"s2":2200},{"h":"C","lev":10,"t":4200,"s":916,"s2":1800},{"h":"C","lev":10,"t":4090,"s":1380,"s2":1420},
{"h":"C","lev":11,"t":5820,"s":381,"s2":684},{"h":"C","lev":11,"t":5700,"s":318,"s2":1226},{"h":"C","lev":11,"t":5600,"s":329,"s2":1420},{"h":"C","lev":11,"t":5400,"s":381,"s2":2380},{"h":"C","lev":11,"t":5200,"s":460,"s2":3250},{"h":"C","lev":11,"t":5000,"s":550,"s2":3250},{"h":"C","lev":11,"t":4800,"s":610,"s2":2650},{"h":"C","lev":11,"t":4600,"s":730,"s2":2200},{"h":"C","lev":11,"t":4400,"s":916,"s2":1800},{"h":"C","lev":11,"t":4300,"s":1226,"s2":1420},
{"h":"C","lev":12,"t":5750,"s":441,"s2":684},{"h":"C","lev":12,"t":5600,"s":410,"s2":1060},{"h":"C","lev":12,"t":5400,"s":490,"s2":1640},{"h":"C","lev":12,"t":5200,"s":570,"s2":2650},{"h":"C","lev":12,"t":5000,"s":684,"s2":2950},{"h":"C","lev":12,"t":4800,"s":791,"s2":2100},{"h":"C","lev":12,"t":4600,"s":916,"s2":1800},{"h":"C","lev":12,"t":4450,"s":1226,"s2":1520},
{"h":"C","lev":13,"t":5620,"s":684,"s2":830},{"h":"C","lev":13,"t":5500,"s":660,"s2":950},{"h":"C","lev":13,"t":5300,"s":760,"s2":1060},{"h":"C","lev":13,"t":5180,"s":985,"s2":1140},
{"h":"C","lev":13,"lobe":"b","t":5240,"s":2050,"s2":2380},{"h":"C","lev":13,"lobe":"b","t":5100,"s":1950,"s2":2750},{"h":"C","lev":13,"lobe":"b","t":4950,"s":2300,"s2":2750},{"h":"C","lev":13,"lobe":"b","t":4850,"s":2450,"s2":2600},

{"h":"D","lev":1,"t":6104,"s":730,"s2":830},{"h":"D","lev":1,"t":6050,"s":475,"s2":985},{"h":"D","lev":1,"t":5980,"s":284,"s2":1190},{"h":"D","lev":1,"t":5940,"s":265,"s2":5500},{"h":"D","lev":1,"t":5800,"s":228,"s2":7100},{"h":"D","lev":1,"t":5600,"s":190,"s2":8200},{"h":"D","lev":1,"t":5480,"s":158,"s2":9000},{"h":"D","lev":1,"t":5400,"s":102,"s2":9900},{"h":"D","lev":1,"t":5200,"s":85,"s2":10200},{"h":"D","lev":1,"t":5000,"s":85,"s2":9900},{"h":"D","lev":1,"t":4800,"s":83,"s2":9500},{"h":"D","lev":1,"t":4600,"s":66,"s2":9900},{"h":"D","lev":1,"t":4400,"s":41,"s2":11000},{"h":"D","lev":1,"t":4200,"s":35,"s2":9900},{"h":"D","lev":1,"t":4000,"s":35,"s2":9900},{"h":"D","lev":1,"t":3800,"s":42,"s2":12300},{"h":"D","lev":1,"t":3700,"s":41,"s2":13700},{"h":"D","lev":1,"t":3650,"s":45,"s2":13800},{"h":"D","lev":1,"t":3625,"s":55,"s2":13800},{"h":"D","lev":1,"t":3615,"s":118,"s2":13800},{"h":"D","lev":1,"t":3500,"s":177,"s2":14300},{"h":"D","lev":1,"t":3400,"s":237,"s2":14500},{"h":"D","lev":1,"t":3300,"s":329,"s2":15200},
{"h":"D","lev":1,"lobe":"b","t":6080,"s":2500,"s2":2600},{"h":"D","lev":1,"lobe":"b","t":6016,"s":1640,"s2":4900},{"h":"D","lev":1,"lobe":"b","t":5966,"s":1226,"s2":5800},{"h":"D","lev":1,"lobe":"b","t":5930,"s":1200,"s2":5900},
{"h":"D","lev":2,"t":5820,"s":1640,"s2":2750},{"h":"D","lev":2,"t":5700,"s":916,"s2":4250},{"h":"D","lev":2,"t":5600,"s":510,"s2":5300},{"h":"D","lev":2,"t":5400,"s":246,"s2":6600},{"h":"D","lev":2,"t":5200,"s":137,"s2":7600},{"h":"D","lev":2,"t":5000,"s":108,"s2":7600},{"h":"D","lev":2,"t":4800,"s":102,"s2":7600},{"h":"D","lev":2,"t":4600,"s":80,"s2":7600},{"h":"D","lev":2,"t":4400,"s":49,"s2":8200},{"h":"D","lev":2,"t":4200,"s":41,"s2":7900},{"h":"D","lev":2,"t":4000,"s":41,"s2":8200},{"h":"D","lev":2,"t":3800,"s":49,"s2":9900},{"h":"D","lev":2,"t":3700,"s":57,"s2":11000},{"h":"D","lev":2,"t":3650,"s":88,"s2":11400},{"h":"D","lev":2,"t":3600,"s":147,"s2":11800},{"h":"D","lev":2,"t":3400,"s":284,"s2":12700},{"h":"D","lev":2,"t":3300,"s":370,"s2":13200},
{"h":"D","lev":3,"t":5750,"s":1640,"s2":2380},{"h":"D","lev":3,"t":5600,"s":635,"s2":4250},{"h":"D","lev":3,"t":5400,"s":354,"s2":5500},{"h":"D","lev":3,"t":5200,"s":246,"s2":6500},{"h":"D","lev":3,"t":5000,"s":212,"s2":6500},{"h":"D","lev":3,"t":4800,"s":183,"s2":6500},{"h":"D","lev":3,"t":4600,"s":147,"s2":6500},{"h":"D","lev":3,"t":4400,"s":95,"s2":7000},{"h":"D","lev":3,"t":4250,"s":66,"s2":6600},{"h":"D","lev":3,"t":4150,"s":61,"s2":6600},{"h":"D","lev":3,"t":4000,"s":76,"s2":7000},{"h":"D","lev":3,"t":3800,"s":118,"s2":8200},{"h":"D","lev":3,"t":3700,"s":158,"s2":8800},{"h":"D","lev":3,"t":3600,"s":212,"s2":9500},{"h":"D","lev":3,"t":3400,"s":381,"s2":11000},{"h":"D","lev":3,"t":3300,"s":460,"s2":11400},
{"h":"D","lev":4,"t":5660,"s":1520,"s2":2050},{"h":"D","lev":4,"t":5600,"s":820,"s2":3400},{"h":"D","lev":4,"t":5400,"s":460,"s2":4500},{"h":"D","lev":4,"t":5200,"s":340,"s2":5300},{"h":"D","lev":4,"t":5000,"s":295,"s2":5400},{"h":"D","lev":4,"t":4800,"s":265,"s2":5300},{"h":"D","lev":4,"t":4600,"s":222,"s2":5300},{"h":"D","lev":4,"t":4400,"s":190,"s2":5500},{"h":"D","lev":4,"t":4200,"s":170,"s2":5500},{"h":"D","lev":4,"t":4000,"s":183,"s2":5700},{"h":"D","lev":4,"t":3800,"s":212,"s2":6900},{"h":"D","lev":4,"t":3600,"s":329,"s2":7600},{"h":"D","lev":4,"t":3400,"s":510,"s2":8500},{"h":"D","lev":4,"t":3300,"s":610,"s2":8800},
{"h":"D","lev":5,"t":5560,"s":1420,"s2":2050},{"h":"D","lev":5,"t":5400,"s":635,"s2":3700},{"h":"D","lev":5,"t":5200,"s":460,"s2":4700},{"h":"D","lev":5,"t":5000,"s":381,"s2":4800},{"h":"D","lev":5,"t":4800,"s":340,"s2":4700},{"h":"D","lev":5,"t":4600,"s":306,"s2":4700},{"h":"D","lev":5,"t":4400,"s":274,"s2":4800},{"h":"D","lev":5,"t":4200,"s":265,"s2":4900},{"h":"D","lev":5,"t":4000,"s":284,"s2":5100},{"h":"D","lev":5,"t":3800,"s":330,"s2":5700},{"h":"D","lev":5,"t":3600,"s":440,"s2":6500},{"h":"D","lev":5,"t":3400,"s":660,"s2":7100},{"h":"D","lev":5,"t":3300,"s":790,"s2":7300},
{"h":"D","lev":6,"t":5480,"s":1420,"s2":2000},{"h":"D","lev":6,"t":5400,"s":840,"s2":2950},{"h":"D","lev":6,"t":5200,"s":635,"s2":3800},{"h":"D","lev":6,"t":5000,"s":550,"s2":4100},{"h":"D","lev":6,"t":4800,"s":475,"s2":4100},{"h":"D","lev":6,"t":4600,"s":410,"s2":3950},{"h":"D","lev":6,"t":4400,"s":354,"s2":4100},{"h":"D","lev":6,"t":4200,"s":329,"s2":4200},{"h":"D","lev":6,"t":4000,"s":354,"s2":4350},{"h":"D","lev":6,"t":3800,"s":410,"s2":4800},{"h":"D","lev":6,"t":3600,"s":550,"s2":5300},{"h":"D","lev":6,"t":3400,"s":790,"s2":5500},{"h":"D","lev":6,"t":3300,"s":1060,"s2":5300},
{"h":"D","lev":7,"t":5300,"s":1420,"s2":1900},{"h":"D","lev":7,"t":5200,"s":890,"s2":3150},{"h":"D","lev":7,"t":5000,"s":760,"s2":3500},{"h":"D","lev":7,"t":4800,"s":660,"s2":3500},{"h":"D","lev":7,"t":4600,"s":550,"s2":3500},{"h":"D","lev":7,"t":4400,"s":425,"s2":3500},{"h":"D","lev":7,"t":4200,"s":381,"s2":3680},{"h":"D","lev":7,"t":4000,"s":410,"s2":3800},{"h":"D","lev":7,"t":3800,"s":490,"s2":3950},{"h":"D","lev":7,"t":3600,"s":684,"s2":4250},{"h":"D","lev":7,"t":3450,"s":1130,"s2":3680},{"h":"D","lev":7,"t":3400,"s":1644,"s2":2380},
{"h":"D","lev":8,"t":5050,"s":1420,"s2":1900},{"h":"D","lev":8,"t":5000,"s":1130,"s2":2380},{"h":"D","lev":8,"t":4800,"s":916,"s2":3050},{"h":"D","lev":8,"t":4600,"s":730,"s2":3150},{"h":"D","lev":8,"t":4400,"s":550,"s2":3150},{"h":"D","lev":8,"t":4200,"s":475,"s2":3250},{"h":"D","lev":8,"t":4000,"s":490,"s2":3415},{"h":"D","lev":8,"t":3800,"s":635,"s2":3500},{"h":"D","lev":8,"t":3600,"s":916,"s2":3250},{"h":"D","lev":8,"t":3520,"s":1520,"s2":2050},
{"h":"D","lev":9,"t":4800,"s":1420,"s2":1770},{"h":"D","lev":9,"t":4700,"s":1060,"s2":2550},{"h":"D","lev":9,"t":4600,"s":850,"s2":2800},{"h":"D","lev":9,"t":4400,"s":684,"s2":2950},{"h":"D","lev":9,"t":4200,"s":590,"s2":3050},{"h":"D","lev":9,"t":4000,"s":610,"s2":3100},{"h":"D","lev":9,"t":3800,"s":770,"s2":2950},{"h":"D","lev":9,"t":3680,"s":1226,"s2":1900},
{"h":"D","lev":10,"t":4600,"s":1420,"s2":1830},{"h":"D","lev":10,"t":4450,"s":1060,"s2":2470},{"h":"D","lev":10,"t":4200,"s":770,"s2":2750},{"h":"D","lev":10,"t":4000,"s":790,"s2":2750},{"h":"D","lev":10,"t":3800,"s":1060,"s2":2470},{"h":"D","lev":10,"t":3720,"s":1480,"s2":1770},
{"h":"D","lev":11,"t":4480,"s":1420,"s2":1770},{"h":"D","lev":11,"t":4350,"s":1130,"s2":2320},{"h":"D","lev":11,"t":4200,"s":985,"s2":2470},{"h":"D","lev":11,"t":4000,"s":1060,"s2":2470},{"h":"D","lev":11,"t":3850,"s":1420,"s2":1770},
{"h":"D","lev":12,"t":4350,"s":1420,"s2":1640},{"h":"D","lev":12,"t":4250,"s":1200,"s2":2050},{"h":"D","lev":12,"t":4100,"s":1170,"s2":2100},{"h":"D","lev":12,"t":3950,"s":1350,"s2":1800},{"h":"D","lev":12,"t":3900,"s":1560,"s2":1640},
{"h":"D","lev":13,"t":4230,"s":1480,"s2":1680},{"h":"D","lev":13,"t":4150,"s":1280,"s2":1900},{"h":"D","lev":13,"t":4050,"s":1320,"s2":1800},{"h":"D","lev":13,"t":3980,"s":1560,"s2":1680}
]},
"concat":[
{"title":"Kp < 12","width":543,"height":357,"resolve":{"axis":{"x":"independent","y":"independent"}},"layer":[
{"data":{"name":"heat"},"transform":[{"filter":"datum.h=='A'"}],"mark":{"type":"area","clip":true,"interpolate":"monotone","strokeWidth":9,"strokeOpacity":0.5,"strokeJoin":"round"},"encoding":{"x":{"field":"t","type":"quantitative","scale":{"domain":[7200,3300],"nice":false},"axis":{"orient":"bottom","values":[7000,6000,5000,4000],"labels":false,"title":null,"tickSize":-10}},"y":{"field":"s","type":"quantitative","scale":{"type":"log","domain":[12,30000],"nice":false},"axis":{"orient":"left","values":[100,1000,10000],"tickSize":-10,"labelAngle":270,"labelAlign":"right","labelBaseline":"middle","labelOffset":-9,"labelPadding":28,"title":"Sph (ppm)","titlePadding":4}},"y2":{"field":"s2"},"fill":{"field":"lev","type":"ordinal","scale":{"domain":[1,2,3,4,5,6,7,8,9,10,11,12,13],"range":["#fbf8bb","#fde9a9","#fed595","#febb80","#fda26e","#f97d5f","#e55464","#c73e73","#9e2f7f","#721f81","#440f76","#221150","#07051a"]},"legend":null},"stroke":{"field":"lev","type":"ordinal","scale":{"domain":[1,2,3,4,5,6,7,8,9,10,11,12,13],"range":["#fbf8bb","#fde9a9","#fed595","#febb80","#fda26e","#f97d5f","#e55464","#c73e73","#9e2f7f","#721f81","#440f76","#221150","#07051a"]},"legend":null},"detail":{"field":"lobe"}}},
{"data":{"name":"lines"},"mark":{"type":"line","clip":true},"encoding":{"x":{"field":"t","type":"quantitative","scale":{"domain":[7200,3300],"nice":false},"axis":{"orient":"top","values":[7000,6000,5000,4000],"labels":false,"title":null,"tickSize":-10}},"y":{"field":"s","type":"quantitative","scale":{"type":"log","domain":[12,30000],"nice":false},"axis":{"orient":"right","values":[100,1000,10000],"labels":false,"title":null,"tickSize":-10}},"color":{"field":"k","type":"nominal","title":"lower edge","scale":{"domain":["Kp < 12","Kp = [12, 13[","Kp = [13, 14[","Kp = [14, 15[","Kp = [15, 16[","Kp ≥ 16"],"range":["#1b2745","#2f4468","#41627f","#4f7f9c","#68a0b4","#88bdc6"]}},"strokeDash":{"field":"k","type":"nominal","title":"lower edge","scale":{"domain":["Kp < 12","Kp = [12, 13[","Kp = [13, 14[","Kp = [14, 15[","Kp = [15, 16[","Kp ≥ 16"],"range":[[1,0],[6.5,3.5],[6.5,3.5],[6.5,3.5],[6.5,3.5],[6.5,3.5]]}},"strokeWidth":{"field":"k","type":"nominal","title":"lower edge","scale":{"type":"ordinal","domain":["Kp < 12","Kp = [12, 13[","Kp = [13, 14[","Kp = [14, 15[","Kp = [15, 16[","Kp ≥ 16"],"range":[3.6,1.6,1.6,1.6,1.6,1.6]}}}},
{"data":{"name":"lines"},"mark":{"type":"line","opacity":0},"encoding":{"x":{"field":"t","type":"quantitative","scale":{"domain":[7200,3300],"nice":false},"axis":{"orient":"bottom","values":[7100,6900,6800,6700,6600,6500,6400,6300,6200,6100,5900,5800,5700,5600,5500,5400,5300,5200,5100,4900,4800,4700,4600,4500,4400,4300,4200,4100,3900,3800,3700,3600,3500,3400],"labels":false,"title":null,"tickSize":-6}},"y":{"field":"s","type":"quantitative","scale":{"type":"log","domain":[12,30000],"nice":false},"axis":{"orient":"left","values":[20,30,40,50,60,70,80,90,200,300,400,500,600,700,800,900,2000,3000,4000,5000,6000,7000,8000,9000,20000],"labels":false,"title":null,"tickSize":-6}}}},
{"data":{"name":"lines"},"mark":{"type":"line","opacity":0},"encoding":{"x":{"field":"t","type":"quantitative","scale":{"domain":[7200,3300],"nice":false},"axis":{"orient":"top","values":[7100,6900,6800,6700,6600,6500,6400,6300,6200,6100,5900,5800,5700,5600,5500,5400,5300,5200,5100,4900,4800,4700,4600,4500,4400,4300,4200,4100,3900,3800,3700,3600,3500,3400],"labels":false,"title":null,"tickSize":-6}},"y":{"field":"s","type":"quantitative","scale":{"type":"log","domain":[12,30000],"nice":false},"axis":{"orient":"right","values":[20,30,40,50,60,70,80,90,200,300,400,500,600,700,800,900,2000,3000,4000,5000,6000,7000,8000,9000,20000],"labels":false,"title":null,"tickSize":-6}}}}
]},
{"title":"Kp = [12, 13[","width":543,"height":357,"resolve":{"axis":{"x":"independent","y":"independent"}},"layer":[
{"data":{"name":"heat"},"transform":[{"filter":"datum.h=='A'"}],"mark":{"type":"area","clip":true,"interpolate":"monotone","strokeWidth":9,"strokeOpacity":0.5,"strokeJoin":"round"},"encoding":{"x":{"field":"t","type":"quantitative","scale":{"domain":[7200,3300],"nice":false},"axis":{"orient":"bottom","values":[7000,6000,5000,4000],"labels":false,"title":null,"tickSize":-10}},"y":{"field":"s","type":"quantitative","scale":{"type":"log","domain":[12,30000],"nice":false},"axis":{"orient":"left","values":[100,1000,10000],"tickSize":-10,"labels":false,"title":null}},"y2":{"field":"s2"},"fill":{"field":"lev","type":"ordinal","scale":{"domain":[1,2,3,4,5,6,7,8,9,10,11,12,13],"range":["#fbf8bb","#fde9a9","#fed595","#febb80","#fda26e","#f97d5f","#e55464","#c73e73","#9e2f7f","#721f81","#440f76","#221150","#07051a"]},"legend":null},"stroke":{"field":"lev","type":"ordinal","scale":{"domain":[1,2,3,4,5,6,7,8,9,10,11,12,13],"range":["#fbf8bb","#fde9a9","#fed595","#febb80","#fda26e","#f97d5f","#e55464","#c73e73","#9e2f7f","#721f81","#440f76","#221150","#07051a"]},"legend":null},"detail":{"field":"lobe"}}},
{"data":{"name":"lines"},"mark":{"type":"line","clip":true},"encoding":{"x":{"field":"t","type":"quantitative","scale":{"domain":[7200,3300],"nice":false},"axis":{"orient":"top","values":[7000,6000,5000,4000],"labels":false,"title":null,"tickSize":-10}},"y":{"field":"s","type":"quantitative","scale":{"type":"log","domain":[12,30000],"nice":false},"axis":{"orient":"right","values":[100,1000,10000],"labels":false,"title":null,"tickSize":-10}},"color":{"field":"k","type":"nominal","title":"lower edge","scale":{"domain":["Kp < 12","Kp = [12, 13[","Kp = [13, 14[","Kp = [14, 15[","Kp = [15, 16[","Kp ≥ 16"],"range":["#1b2745","#2f4468","#41627f","#4f7f9c","#68a0b4","#88bdc6"]}},"strokeDash":{"field":"k","type":"nominal","title":"lower edge","scale":{"domain":["Kp < 12","Kp = [12, 13[","Kp = [13, 14[","Kp = [14, 15[","Kp = [15, 16[","Kp ≥ 16"],"range":[[6.5,3.5],[1,0],[6.5,3.5],[6.5,3.5],[6.5,3.5],[6.5,3.5]]}},"strokeWidth":{"field":"k","type":"nominal","title":"lower edge","scale":{"type":"ordinal","domain":["Kp < 12","Kp = [12, 13[","Kp = [13, 14[","Kp = [14, 15[","Kp = [15, 16[","Kp ≥ 16"],"range":[1.6,3.6,1.6,1.6,1.6,1.6]}}}},
{"data":{"name":"lines"},"mark":{"type":"line","opacity":0},"encoding":{"x":{"field":"t","type":"quantitative","scale":{"domain":[7200,3300],"nice":false},"axis":{"orient":"bottom","values":[7100,6900,6800,6700,6600,6500,6400,6300,6200,6100,5900,5800,5700,5600,5500,5400,5300,5200,5100,4900,4800,4700,4600,4500,4400,4300,4200,4100,3900,3800,3700,3600,3500,3400],"labels":false,"title":null,"tickSize":-6}},"y":{"field":"s","type":"quantitative","scale":{"type":"log","domain":[12,30000],"nice":false},"axis":{"orient":"left","values":[20,30,40,50,60,70,80,90,200,300,400,500,600,700,800,900,2000,3000,4000,5000,6000,7000,8000,9000,20000],"labels":false,"title":null,"tickSize":-6}}}},
{"data":{"name":"lines"},"mark":{"type":"line","opacity":0},"encoding":{"x":{"field":"t","type":"quantitative","scale":{"domain":[7200,3300],"nice":false},"axis":{"orient":"top","values":[7100,6900,6800,6700,6600,6500,6400,6300,6200,6100,5900,5800,5700,5600,5500,5400,5300,5200,5100,4900,4800,4700,4600,4500,4400,4300,4200,4100,3900,3800,3700,3600,3500,3400],"labels":false,"title":null,"tickSize":-6}},"y":{"field":"s","type":"quantitative","scale":{"type":"log","domain":[12,30000],"nice":false},"axis":{"orient":"right","values":[20,30,40,50,60,70,80,90,200,300,400,500,600,700,800,900,2000,3000,4000,5000,6000,7000,8000,9000,20000],"labels":false,"title":null,"tickSize":-6}}}}
]},
{"title":"Kp = [13, 14[","width":543,"height":357,"resolve":{"axis":{"x":"independent","y":"independent"}},"layer":[
{"data":{"name":"heat"},"transform":[{"filter":"datum.h=='B'"}],"mark":{"type":"area","clip":true,"interpolate":"monotone","strokeWidth":9,"strokeOpacity":0.5,"strokeJoin":"round"},"encoding":{"x":{"field":"t","type":"quantitative","scale":{"domain":[7200,3300],"nice":false},"axis":{"orient":"bottom","values":[7000,6000,5000,4000],"labels":false,"title":null,"tickSize":-10}},"y":{"field":"s","type":"quantitative","scale":{"type":"log","domain":[12,30000],"nice":false},"axis":{"orient":"left","values":[100,1000,10000],"tickSize":-10,"labelAngle":270,"labelAlign":"right","labelBaseline":"middle","labelOffset":-9,"labelPadding":28,"title":"Sph (ppm)","titlePadding":4}},"y2":{"field":"s2"},"fill":{"field":"lev","type":"ordinal","scale":{"domain":[1,2,3,4,5,6,7,8,9,10,11,12,13],"range":["#fbf8bb","#fde9a9","#fed595","#febb80","#fda26e","#f97d5f","#e55464","#c73e73","#9e2f7f","#721f81","#440f76","#221150","#07051a"]},"legend":null},"stroke":{"field":"lev","type":"ordinal","scale":{"domain":[1,2,3,4,5,6,7,8,9,10,11,12,13],"range":["#fbf8bb","#fde9a9","#fed595","#febb80","#fda26e","#f97d5f","#e55464","#c73e73","#9e2f7f","#721f81","#440f76","#221150","#07051a"]},"legend":null},"detail":{"field":"lobe"}}},
{"data":{"name":"lines"},"mark":{"type":"line","clip":true},"encoding":{"x":{"field":"t","type":"quantitative","scale":{"domain":[7200,3300],"nice":false},"axis":{"orient":"top","values":[7000,6000,5000,4000],"labels":false,"title":null,"tickSize":-10}},"y":{"field":"s","type":"quantitative","scale":{"type":"log","domain":[12,30000],"nice":false},"axis":{"orient":"right","values":[100,1000,10000],"labels":false,"title":null,"tickSize":-10}},"color":{"field":"k","type":"nominal","title":"lower edge","scale":{"domain":["Kp < 12","Kp = [12, 13[","Kp = [13, 14[","Kp = [14, 15[","Kp = [15, 16[","Kp ≥ 16"],"range":["#1b2745","#2f4468","#41627f","#4f7f9c","#68a0b4","#88bdc6"]}},"strokeDash":{"field":"k","type":"nominal","title":"lower edge","scale":{"domain":["Kp < 12","Kp = [12, 13[","Kp = [13, 14[","Kp = [14, 15[","Kp = [15, 16[","Kp ≥ 16"],"range":[[6.5,3.5],[6.5,3.5],[1,0],[6.5,3.5],[6.5,3.5],[6.5,3.5]]}},"strokeWidth":{"field":"k","type":"nominal","title":"lower edge","scale":{"type":"ordinal","domain":["Kp < 12","Kp = [12, 13[","Kp = [13, 14[","Kp = [14, 15[","Kp = [15, 16[","Kp ≥ 16"],"range":[1.6,1.6,3.6,1.6,1.6,1.6]}}}},
{"data":{"name":"lines"},"mark":{"type":"line","opacity":0},"encoding":{"x":{"field":"t","type":"quantitative","scale":{"domain":[7200,3300],"nice":false},"axis":{"orient":"bottom","values":[7100,6900,6800,6700,6600,6500,6400,6300,6200,6100,5900,5800,5700,5600,5500,5400,5300,5200,5100,4900,4800,4700,4600,4500,4400,4300,4200,4100,3900,3800,3700,3600,3500,3400],"labels":false,"title":null,"tickSize":-6}},"y":{"field":"s","type":"quantitative","scale":{"type":"log","domain":[12,30000],"nice":false},"axis":{"orient":"left","values":[20,30,40,50,60,70,80,90,200,300,400,500,600,700,800,900,2000,3000,4000,5000,6000,7000,8000,9000,20000],"labels":false,"title":null,"tickSize":-6}}}},
{"data":{"name":"lines"},"mark":{"type":"line","opacity":0},"encoding":{"x":{"field":"t","type":"quantitative","scale":{"domain":[7200,3300],"nice":false},"axis":{"orient":"top","values":[7100,6900,6800,6700,6600,6500,6400,6300,6200,6100,5900,5800,5700,5600,5500,5400,5300,5200,5100,4900,4800,4700,4600,4500,4400,4300,4200,4100,3900,3800,3700,3600,3500,3400],"labels":false,"title":null,"tickSize":-6}},"y":{"field":"s","type":"quantitative","scale":{"type":"log","domain":[12,30000],"nice":false},"axis":{"orient":"right","values":[20,30,40,50,60,70,80,90,200,300,400,500,600,700,800,900,2000,3000,4000,5000,6000,7000,8000,9000,20000],"labels":false,"title":null,"tickSize":-6}}}}
]},
{"title":"Kp = [14, 15[","width":543,"height":357,"resolve":{"axis":{"x":"independent","y":"independent"}},"layer":[
{"data":{"name":"heat"},"transform":[{"filter":"datum.h=='B'"}],"mark":{"type":"area","clip":true,"interpolate":"monotone","strokeWidth":9,"strokeOpacity":0.5,"strokeJoin":"round"},"encoding":{"x":{"field":"t","type":"quantitative","scale":{"domain":[7200,3300],"nice":false},"axis":{"orient":"bottom","values":[7000,6000,5000,4000],"labels":false,"title":null,"tickSize":-10}},"y":{"field":"s","type":"quantitative","scale":{"type":"log","domain":[12,30000],"nice":false},"axis":{"orient":"left","values":[100,1000,10000],"tickSize":-10,"labels":false,"title":null}},"y2":{"field":"s2"},"fill":{"field":"lev","type":"ordinal","scale":{"domain":[1,2,3,4,5,6,7,8,9,10,11,12,13],"range":["#fbf8bb","#fde9a9","#fed595","#febb80","#fda26e","#f97d5f","#e55464","#c73e73","#9e2f7f","#721f81","#440f76","#221150","#07051a"]},"legend":null},"stroke":{"field":"lev","type":"ordinal","scale":{"domain":[1,2,3,4,5,6,7,8,9,10,11,12,13],"range":["#fbf8bb","#fde9a9","#fed595","#febb80","#fda26e","#f97d5f","#e55464","#c73e73","#9e2f7f","#721f81","#440f76","#221150","#07051a"]},"legend":null},"detail":{"field":"lobe"}}},
{"data":{"name":"lines"},"mark":{"type":"line","clip":true},"encoding":{"x":{"field":"t","type":"quantitative","scale":{"domain":[7200,3300],"nice":false},"axis":{"orient":"top","values":[7000,6000,5000,4000],"labels":false,"title":null,"tickSize":-10}},"y":{"field":"s","type":"quantitative","scale":{"type":"log","domain":[12,30000],"nice":false},"axis":{"orient":"right","values":[100,1000,10000],"labels":false,"title":null,"tickSize":-10}},"color":{"field":"k","type":"nominal","title":"lower edge","scale":{"domain":["Kp < 12","Kp = [12, 13[","Kp = [13, 14[","Kp = [14, 15[","Kp = [15, 16[","Kp ≥ 16"],"range":["#1b2745","#2f4468","#41627f","#4f7f9c","#68a0b4","#88bdc6"]}},"strokeDash":{"field":"k","type":"nominal","title":"lower edge","scale":{"domain":["Kp < 12","Kp = [12, 13[","Kp = [13, 14[","Kp = [14, 15[","Kp = [15, 16[","Kp ≥ 16"],"range":[[6.5,3.5],[6.5,3.5],[6.5,3.5],[1,0],[6.5,3.5],[6.5,3.5]]}},"strokeWidth":{"field":"k","type":"nominal","title":"lower edge","scale":{"type":"ordinal","domain":["Kp < 12","Kp = [12, 13[","Kp = [13, 14[","Kp = [14, 15[","Kp = [15, 16[","Kp ≥ 16"],"range":[1.6,1.6,1.6,3.6,1.6,1.6]}}}},
{"data":{"name":"lines"},"mark":{"type":"line","opacity":0},"encoding":{"x":{"field":"t","type":"quantitative","scale":{"domain":[7200,3300],"nice":false},"axis":{"orient":"bottom","values":[7100,6900,6800,6700,6600,6500,6400,6300,6200,6100,5900,5800,5700,5600,5500,5400,5300,5200,5100,4900,4800,4700,4600,4500,4400,4300,4200,4100,3900,3800,3700,3600,3500,3400],"labels":false,"title":null,"tickSize":-6}},"y":{"field":"s","type":"quantitative","scale":{"type":"log","domain":[12,30000],"nice":false},"axis":{"orient":"left","values":[20,30,40,50,60,70,80,90,200,300,400,500,600,700,800,900,2000,3000,4000,5000,6000,7000,8000,9000,20000],"labels":false,"title":null,"tickSize":-6}}}},
{"data":{"name":"lines"},"mark":{"type":"line","opacity":0},"encoding":{"x":{"field":"t","type":"quantitative","scale":{"domain":[7200,3300],"nice":false},"axis":{"orient":"top","values":[7100,6900,6800,6700,6600,6500,6400,6300,6200,6100,5900,5800,5700,5600,5500,5400,5300,5200,5100,4900,4800,4700,4600,4500,4400,4300,4200,4100,3900,3800,3700,3600,3500,3400],"labels":false,"title":null,"tickSize":-6}},"y":{"field":"s","type":"quantitative","scale":{"type":"log","domain":[12,30000],"nice":false},"axis":{"orient":"right","values":[20,30,40,50,60,70,80,90,200,300,400,500,600,700,800,900,2000,3000,4000,5000,6000,7000,8000,9000,20000],"labels":false,"title":null,"tickSize":-6}}}}
]},
{"title":"Kp = [15, 16[","width":543,"height":357,"resolve":{"axis":{"x":"independent","y":"independent"}},"layer":[
{"data":{"name":"heat"},"transform":[{"filter":"datum.h=='C'"}],"mark":{"type":"area","clip":true,"interpolate":"monotone","strokeWidth":9,"strokeOpacity":0.5,"strokeJoin":"round"},"encoding":{"x":{"field":"t","type":"quantitative","scale":{"domain":[7200,3300],"nice":false},"axis":{"orient":"bottom","values":[7000,6000,5000,4000],"tickSize":-10,"labelPadding":14,"title":"Teff (K)","titlePadding":10}},"y":{"field":"s","type":"quantitative","scale":{"type":"log","domain":[12,30000],"nice":false},"axis":{"orient":"left","values":[100,1000,10000],"tickSize":-10,"labelAngle":270,"labelAlign":"right","labelBaseline":"middle","labelOffset":-9,"labelPadding":28,"title":"Sph (ppm)","titlePadding":4}},"y2":{"field":"s2"},"fill":{"field":"lev","type":"ordinal","scale":{"domain":[1,2,3,4,5,6,7,8,9,10,11,12,13],"range":["#fbf8bb","#fde9a9","#fed595","#febb80","#fda26e","#f97d5f","#e55464","#c73e73","#9e2f7f","#721f81","#440f76","#221150","#07051a"]},"legend":null},"stroke":{"field":"lev","type":"ordinal","scale":{"domain":[1,2,3,4,5,6,7,8,9,10,11,12,13],"range":["#fbf8bb","#fde9a9","#fed595","#febb80","#fda26e","#f97d5f","#e55464","#c73e73","#9e2f7f","#721f81","#440f76","#221150","#07051a"]},"legend":null},"detail":{"field":"lobe"}}},
{"data":{"name":"lines"},"mark":{"type":"line","clip":true},"encoding":{"x":{"field":"t","type":"quantitative","scale":{"domain":[7200,3300],"nice":false},"axis":{"orient":"top","values":[7000,6000,5000,4000],"labels":false,"title":null,"tickSize":-10}},"y":{"field":"s","type":"quantitative","scale":{"type":"log","domain":[12,30000],"nice":false},"axis":{"orient":"right","values":[100,1000,10000],"labels":false,"title":null,"tickSize":-10}},"color":{"field":"k","type":"nominal","title":"lower edge","scale":{"domain":["Kp < 12","Kp = [12, 13[","Kp = [13, 14[","Kp = [14, 15[","Kp = [15, 16[","Kp ≥ 16"],"range":["#1b2745","#2f4468","#41627f","#4f7f9c","#68a0b4","#88bdc6"]}},"strokeDash":{"field":"k","type":"nominal","title":"lower edge","scale":{"domain":["Kp < 12","Kp = [12, 13[","Kp = [13, 14[","Kp = [14, 15[","Kp = [15, 16[","Kp ≥ 16"],"range":[[6.5,3.5],[6.5,3.5],[6.5,3.5],[6.5,3.5],[1,0],[6.5,3.5]]}},"strokeWidth":{"field":"k","type":"nominal","title":"lower edge","scale":{"type":"ordinal","domain":["Kp < 12","Kp = [12, 13[","Kp = [13, 14[","Kp = [14, 15[","Kp = [15, 16[","Kp ≥ 16"],"range":[1.6,1.6,1.6,1.6,3.6,1.6]}}}},
{"data":{"name":"lines"},"mark":{"type":"line","opacity":0},"encoding":{"x":{"field":"t","type":"quantitative","scale":{"domain":[7200,3300],"nice":false},"axis":{"orient":"bottom","values":[7100,6900,6800,6700,6600,6500,6400,6300,6200,6100,5900,5800,5700,5600,5500,5400,5300,5200,5100,4900,4800,4700,4600,4500,4400,4300,4200,4100,3900,3800,3700,3600,3500,3400],"labels":false,"title":null,"tickSize":-6}},"y":{"field":"s","type":"quantitative","scale":{"type":"log","domain":[12,30000],"nice":false},"axis":{"orient":"left","values":[20,30,40,50,60,70,80,90,200,300,400,500,600,700,800,900,2000,3000,4000,5000,6000,7000,8000,9000,20000],"labels":false,"title":null,"tickSize":-6}}}},
{"data":{"name":"lines"},"mark":{"type":"line","opacity":0},"encoding":{"x":{"field":"t","type":"quantitative","scale":{"domain":[7200,3300],"nice":false},"axis":{"orient":"top","values":[7100,6900,6800,6700,6600,6500,6400,6300,6200,6100,5900,5800,5700,5600,5500,5400,5300,5200,5100,4900,4800,4700,4600,4500,4400,4300,4200,4100,3900,3800,3700,3600,3500,3400],"labels":false,"title":null,"tickSize":-6}},"y":{"field":"s","type":"quantitative","scale":{"type":"log","domain":[12,30000],"nice":false},"axis":{"orient":"right","values":[20,30,40,50,60,70,80,90,200,300,400,500,600,700,800,900,2000,3000,4000,5000,6000,7000,8000,9000,20000],"labels":false,"title":null,"tickSize":-6}}}}
]},
{"title":"Kp ≥ 16","width":543,"height":357,"resolve":{"axis":{"x":"independent","y":"independent"}},"layer":[
{"data":{"name":"heat"},"transform":[{"filter":"datum.h=='D'"}],"mark":{"type":"area","clip":true,"interpolate":"monotone","strokeWidth":9,"strokeOpacity":0.5,"strokeJoin":"round"},"encoding":{"x":{"field":"t","type":"quantitative","scale":{"domain":[7200,3300],"nice":false},"axis":{"orient":"bottom","values":[7000,6000,5000,4000],"tickSize":-10,"labelPadding":14,"title":"Teff (K)","titlePadding":10}},"y":{"field":"s","type":"quantitative","scale":{"type":"log","domain":[12,30000],"nice":false},"axis":{"orient":"left","values":[100,1000,10000],"tickSize":-10,"labels":false,"title":null}},"y2":{"field":"s2"},"fill":{"field":"lev","type":"ordinal","scale":{"domain":[1,2,3,4,5,6,7,8,9,10,11,12,13],"range":["#fbf8bb","#fde9a9","#fed595","#febb80","#fda26e","#f97d5f","#e55464","#c73e73","#9e2f7f","#721f81","#440f76","#221150","#07051a"]},"legend":null},"stroke":{"field":"lev","type":"ordinal","scale":{"domain":[1,2,3,4,5,6,7,8,9,10,11,12,13],"range":["#fbf8bb","#fde9a9","#fed595","#febb80","#fda26e","#f97d5f","#e55464","#c73e73","#9e2f7f","#721f81","#440f76","#221150","#07051a"]},"legend":null},"detail":{"field":"lobe"}}},
{"data":{"name":"lines"},"mark":{"type":"line","clip":true},"encoding":{"x":{"field":"t","type":"quantitative","scale":{"domain":[7200,3300],"nice":false},"axis":{"orient":"top","values":[7000,6000,5000,4000],"labels":false,"title":null,"tickSize":-10}},"y":{"field":"s","type":"quantitative","scale":{"type":"log","domain":[12,30000],"nice":false},"axis":{"orient":"right","values":[100,1000,10000],"labels":false,"title":null,"tickSize":-10}},"color":{"field":"k","type":"nominal","title":"lower edge","scale":{"domain":["Kp < 12","Kp = [12, 13[","Kp = [13, 14[","Kp = [14, 15[","Kp = [15, 16[","Kp ≥ 16"],"range":["#1b2745","#2f4468","#41627f","#4f7f9c","#68a0b4","#88bdc6"]}},"strokeDash":{"field":"k","type":"nominal","title":"lower edge","scale":{"domain":["Kp < 12","Kp = [12, 13[","Kp = [13, 14[","Kp = [14, 15[","Kp = [15, 16[","Kp ≥ 16"],"range":[[6.5,3.5],[6.5,3.5],[6.5,3.5],[6.5,3.5],[6.5,3.5],[1,0]]}},"strokeWidth":{"field":"k","type":"nominal","title":"lower edge","scale":{"type":"ordinal","domain":["Kp < 12","Kp = [12, 13[","Kp = [13, 14[","Kp = [14, 15[","Kp = [15, 16[","Kp ≥ 16"],"range":[1.6,1.6,1.6,1.6,1.6,3.6]}}}},
{"data":{"name":"lines"},"mark":{"type":"line","opacity":0},"encoding":{"x":{"field":"t","type":"quantitative","scale":{"domain":[7200,3300],"nice":false},"axis":{"orient":"bottom","values":[7100,6900,6800,6700,6600,6500,6400,6300,6200,6100,5900,5800,5700,5600,5500,5400,5300,5200,5100,4900,4800,4700,4600,4500,4400,4300,4200,4100,3900,3800,3700,3600,3500,3400],"labels":false,"title":null,"tickSize":-6}},"y":{"field":"s","type":"quantitative","scale":{"type":"log","domain":[12,30000],"nice":false},"axis":{"orient":"left","values":[20,30,40,50,60,70,80,90,200,300,400,500,600,700,800,900,2000,3000,4000,5000,6000,7000,8000,9000,20000],"labels":false,"title":null,"tickSize":-6}}}},
{"data":{"name":"lines"},"mark":{"type":"line","opacity":0},"encoding":{"x":{"field":"t","type":"quantitative","scale":{"domain":[7200,3300],"nice":false},"axis":{"orient":"top","values":[7100,6900,6800,6700,6600,6500,6400,6300,6200,6100,5900,5800,5700,5600,5500,5400,5300,5200,5100,4900,4800,4700,4600,4500,4400,4300,4200,4100,3900,3800,3700,3600,3500,3400],"labels":false,"title":null,"tickSize":-6}},"y":{"field":"s","type":"quantitative","scale":{"type":"log","domain":[12,30000],"nice":false},"axis":{"orient":"right","values":[20,30,40,50,60,70,80,90,200,300,400,500,600,700,800,900,2000,3000,4000,5000,6000,7000,8000,9000,20000],"labels":false,"title":null,"tickSize":-6}}}}
]}
]}
